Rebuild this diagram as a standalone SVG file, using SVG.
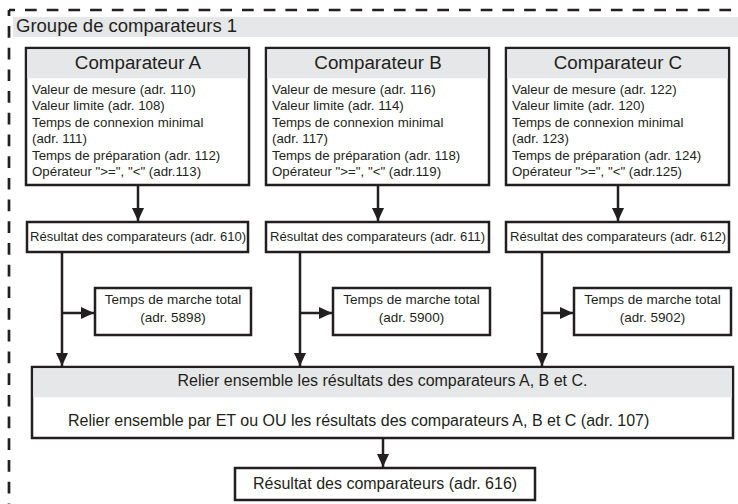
<svg xmlns="http://www.w3.org/2000/svg" width="738" height="504" viewBox="0 0 738 504">
<defs>
<marker id="ah" markerWidth="13" markerHeight="12" refX="13" refY="6" orient="auto" markerUnits="userSpaceOnUse">
<path d="M0,0 L13,6 L0,12 Z" fill="#231f20"/>
</marker>
<style>
text{font-family:"Liberation Sans",Arial,sans-serif;fill:#231f20}
.box{fill:#fff;stroke:#231f20;stroke-width:2.5}
.band{fill:#e6e7e8}
.title{font-size:18.8px;text-anchor:middle}
.body{font-size:13.3px}
.res{font-size:13.1px}
.tm{font-size:13.5px;text-anchor:middle}
.big{font-size:16px}
.mid{text-anchor:middle}
.conn{fill:none;stroke:#231f20;stroke-width:2.5}
.dash{fill:none;stroke:#231f20;stroke-width:2.7;stroke-dasharray:11.7,10;stroke-dashoffset:5.7}
</style>
</defs>
<rect width="738" height="504" fill="#fff"/>
<g id="group-frame">
<rect class="band" x="13" y="17" width="725" height="20"/>
<path class="dash" d="M9,10 H738"/>
<path class="dash" d="M9,10 V504"/>
<text x="16" y="31.5" style="font-size:18.5px">Groupe de comparateurs 1</text>
</g>
<g id="compA">
<rect class="box" x="26" y="48" width="223" height="137"/>
<rect class="band" x="27.25" y="49.25" width="220.5" height="29"/>
<text class="title" x="138" y="69">Comparateur A</text>
<text class="body" x="32" y="93.5">Valeur de mesure (adr. 110)</text>
<text class="body" x="32" y="110">Valeur limite (adr. 108)</text>
<text class="body" x="32" y="126.5">Temps de connexion minimal</text>
<text class="body" x="32" y="143">(adr. 111)</text>
<text class="body" x="32" y="159.5">Temps de préparation (adr. 112)</text>
<text class="body" x="32" y="176">Opérateur "&gt;=", "&lt;" (adr.113)</text>
</g>
<g id="compB">
<rect class="box" x="266" y="48" width="223" height="137"/>
<rect class="band" x="267.25" y="49.25" width="220.5" height="29"/>
<text class="title" x="378" y="69">Comparateur B</text>
<text class="body" x="272" y="93.5">Valeur de mesure (adr. 116)</text>
<text class="body" x="272" y="110">Valeur limite (adr. 114)</text>
<text class="body" x="272" y="126.5">Temps de connexion minimal</text>
<text class="body" x="272" y="143">(adr. 117)</text>
<text class="body" x="272" y="159.5">Temps de préparation (adr. 118)</text>
<text class="body" x="272" y="176">Opérateur "&gt;=", "&lt;" (adr.119)</text>
</g>
<g id="compC">
<rect class="box" x="506" y="48" width="223" height="137"/>
<rect class="band" x="507.25" y="49.25" width="220.5" height="29"/>
<text class="title" x="618" y="69">Comparateur C</text>
<text class="body" x="512" y="93.5">Valeur de mesure (adr. 122)</text>
<text class="body" x="512" y="110">Valeur limite (adr. 120)</text>
<text class="body" x="512" y="126.5">Temps de connexion minimal</text>
<text class="body" x="512" y="143">(adr. 123)</text>
<text class="body" x="512" y="159.5">Temps de préparation (adr. 124)</text>
<text class="body" x="512" y="176">Opérateur "&gt;=", "&lt;" (adr.125)</text>
</g>
<g id="resA">
<rect class="box" x="27" y="222" width="221" height="30"/>
<text class="res" x="30" y="241">Résultat des comparateurs (adr. 610)</text>
</g>
<g id="resB">
<rect class="box" x="266" y="222" width="223" height="30"/>
<text class="res" x="270" y="241">Résultat des comparateurs (adr. 611)</text>
</g>
<g id="resC">
<rect class="box" x="506" y="222" width="223" height="30"/>
<text class="res" x="510" y="241">Résultat des comparateurs (adr. 612)</text>
</g>
<g id="timeA">
<rect class="box" x="95" y="288" width="156" height="47"/>
<text class="tm" x="173" y="304">Temps de marche total</text>
<text class="tm" x="173" y="322">(adr. 5898)</text>
</g>
<g id="timeB">
<rect class="box" x="333" y="288" width="157" height="47"/>
<text class="tm" x="411.5" y="304">Temps de marche total</text>
<text class="tm" x="411.5" y="322">(adr. 5900)</text>
</g>
<g id="timeC">
<rect class="box" x="574" y="288" width="157" height="47"/>
<text class="tm" x="652.5" y="304">Temps de marche total</text>
<text class="tm" x="652.5" y="322">(adr. 5902)</text>
</g>
<g id="link">
<rect class="box" x="32" y="367" width="701" height="71"/>
<rect class="band" x="33.25" y="368.25" width="698.5" height="29"/>
<text class="big mid" x="382.5" y="386">Relier ensemble les résultats des comparateurs A, B et C.</text>
<text class="big" x="68" y="426">Relier ensemble par ET ou OU les résultats des comparateurs A, B et C (adr. 107)</text>
</g>
<g id="resFinal">
<rect class="box" x="235" y="468" width="300" height="32"/>
<text class="big" x="253" y="489">Résultat des comparateurs (adr. 616)</text>
</g>
<g id="connectors">
<path class="conn" d="M138,185 V221" marker-end="url(#ah)"/>
<path class="conn" d="M378,185 V221" marker-end="url(#ah)"/>
<path class="conn" d="M618,185 V221" marker-end="url(#ah)"/>
<path class="conn" d="M62,252 V366" marker-end="url(#ah)"/>
<path class="conn" d="M300,252 V366" marker-end="url(#ah)"/>
<path class="conn" d="M542,252 V366" marker-end="url(#ah)"/>
<path class="conn" d="M62,313 H94" marker-end="url(#ah)"/>
<path class="conn" d="M300,313 H332" marker-end="url(#ah)"/>
<path class="conn" d="M542,313 H573" marker-end="url(#ah)"/>
<path class="conn" d="M383,438 V467" marker-end="url(#ah)"/>
</g>
</svg>
